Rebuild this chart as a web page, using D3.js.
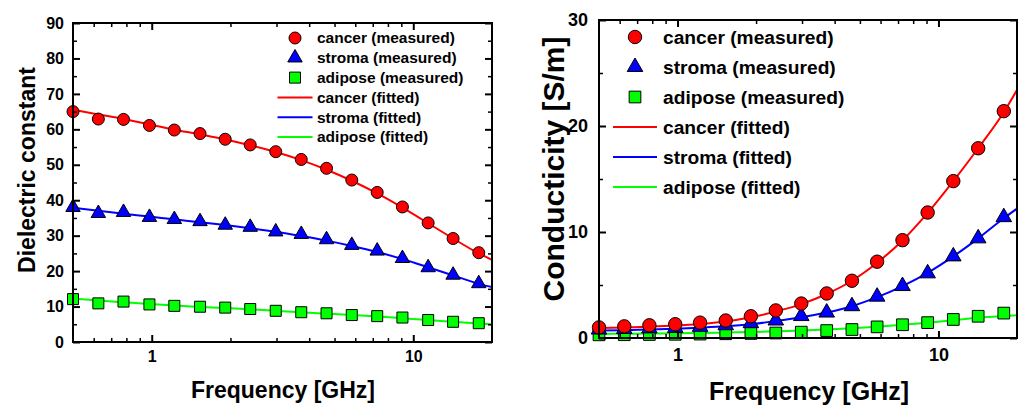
<!DOCTYPE html>
<html>
<head>
<meta charset="utf-8">
<script src="https://cdn.jsdelivr.net/npm/d3@7"></script>
<style>
  body { margin: 0; background: #fff; }
  svg text { font-family: "Liberation Sans", Arial, sans-serif; font-weight: bold; fill: #000; }
</style>
</head>
<body>
<div id="chart"></div>
<script>
// measured frequencies (GHz)
const freq = [0.5, 0.625, 0.78, 0.98, 1.22, 1.53, 1.91, 2.38, 2.98, 3.73, 4.66, 5.82, 7.28, 9.09, 11.4, 14.2, 17.8];
const fitFreq = [0.5, 0.625, 0.78, 0.98, 1.22, 1.53, 1.91, 2.38, 2.98, 3.73, 4.66, 5.82, 7.28, 9.09, 11.4, 14.2, 17.8, 20];

// dielectric constant
const epsCancer  = [65, 62.9, 62.8, 61.1, 59.8, 58.8, 57.2, 55.6, 53.7, 51.5, 49, 45.7, 42.2, 38.1, 33.6, 29.2, 25.2];
const epsStroma  = [38, 36.3, 36.6, 35.2, 34.6, 34, 33, 32.4, 31.1, 30.4, 28.9, 27.3, 25.7, 23.6, 21, 18.9, 16.5];
const epsAdipose = [12.1, 10.9, 11.4, 10.6, 10.2, 9.95, 9.7, 9.3, 8.8, 8.4, 8.1, 7.6, 7.3, 6.9, 6.2, 5.7, 5.3];
const epsCancerFit  = [65.5, 64.2, 62.9, 61.4, 59.9, 58.6, 57.1, 55.5, 53.6, 51.3, 48.6, 45.5, 41.9, 37.9, 33.5, 29.2, 25, 23.2];
const epsStromaFit  = [37.9, 37, 36.2, 35.4, 34.6, 33.8, 33, 32.1, 31.1, 29.9, 28.6, 27.1, 25.4, 23.4, 21.1, 18.8, 16.4, 15.5];
const epsAdiposeFit = [12.3, 11.7, 11.2, 10.7, 10.3, 9.9, 9.6, 9.2, 8.8, 8.4, 8, 7.6, 7.2, 6.7, 6.2, 5.7, 5.2, 5];

// conductivity (S/m)
const sigCancer  = [1.0, 1.1, 1.2, 1.3, 1.45, 1.65, 2.05, 2.6, 3.25, 4.2, 5.4, 7.2, 9.23, 11.84, 14.8, 17.9, 21.4];
const sigStroma  = [0.8, 0.85, 0.9, 0.95, 1.05, 1.2, 1.4, 1.65, 2.07, 2.4, 3, 3.9, 4.9, 6.1, 7.7, 9.4, 11.4];
const sigAdipose = [0.3, 0.31, 0.33, 0.35, 0.37, 0.4, 0.43, 0.47, 0.55, 0.7, 0.8, 1.05, 1.25, 1.45, 1.75, 2.05, 2.35];
const sigCancerFit  = [0.95, 1, 1.07, 1.17, 1.32, 1.55, 1.95, 2.5, 3.2, 4.15, 5.4, 7.1, 9.2, 11.8, 14.8, 17.9, 21.3, 23.4];
const sigStromaFit  = [0.7, 0.74, 0.8, 0.87, 0.97, 1.1, 1.3, 1.6, 1.95, 2.4, 3, 3.85, 4.9, 6.15, 7.7, 9.4, 11.3, 12.2];
const sigAdiposeFit = [0.38, 0.4, 0.42, 0.45, 0.48, 0.52, 0.57, 0.63, 0.7, 0.8, 0.92, 1.07, 1.25, 1.45, 1.68, 1.92, 2.08, 2.15];

// axis ticks
const xMajor = [1, 10];
const xMinor = [0.6, 0.7, 0.8, 0.9, 2, 3, 4, 5, 6, 7, 8, 9];
const epsMajor = [0, 10, 20, 30, 40, 50, 60, 70, 80, 90];
const epsMinor = [5, 15, 25, 35, 45, 55, 65, 75, 85];
const sigMajor = [0, 10, 20, 30];
const sigMinor = [5, 15, 25];

const legendLabels = ["cancer (measured)", "stroma (measured)", "adipose (measured)",
                      "cancer (fitted)", "stroma (fitted)", "adipose (fitted)"];
const colors = ["#ff0000", "#0000ff", "#00ff00"];
const shapes = [d3.symbolCircle, d3.symbolTriangle, d3.symbolSquare];

const svg = d3.select("#chart")
  .append("svg")
  .attr("width", 1019)
  .attr("height", 405);

function drawPanel(p) {
  const x = d3.scaleLog().domain([0.5, 20]).range([p.left, p.right]);
  const y = d3.scaleLinear().domain(p.yDomain).range([p.bottom, p.top]);
  const g = svg.append("g");

  const clipId = "clip" + p.id;
  g.append("clipPath").attr("id", clipId)
    .append("rect")
    .attr("x", p.left).attr("y", p.top)
    .attr("width", p.right - p.left).attr("height", p.bottom - p.top);

  // fitted curves
  const line = d3.line()
    .x(d => x(d[0]))
    .y(d => y(d[1]))
    .curve(d3.curveMonotoneX);
  p.fits.forEach((vals, i) => {
    g.append("path")
      .datum(fitFreq.map((f, j) => [f, vals[j]]))
      .attr("clip-path", `url(#${clipId})`)
      .attr("d", line)
      .attr("fill", "none")
      .attr("stroke", colors[i])
      .attr("stroke-width", 2);
  });

  // measured points (adipose first so cancer sits on top)
  [2, 1, 0].forEach(i => {
    g.append("g")
      .selectAll("path")
      .data(freq.map((f, j) => [f, p.meas[i][j]]))
      .join("path")
      .attr("transform", d => `translate(${x(d[0])},${y(d[1])})`)
      .attr("d", d3.symbol().type(shapes[i]).size(p.sizes[i]))
      .attr("fill", colors[i])
      .attr("stroke", "#000")
      .attr("stroke-width", 1);
  });

  // axes, ticks pointing inward
  const axes = [
    [d3.axisBottom, x, xMajor, xMinor, `translate(0,${p.bottom})`, true, p.xPad],
    [d3.axisTop, x, xMajor, xMinor, `translate(0,${p.top})`, false, p.xPad],
    [d3.axisLeft, y, p.yMajor, p.yMinor, `translate(${p.left},0)`, true, p.yPad],
    [d3.axisRight, y, p.yMajor, p.yMinor, `translate(${p.right},0)`, false, p.yPad]
  ];
  axes.forEach(([fn, sc, major, minor, tr, labels, pad]) => {
    const a = g.append("g").attr("transform", tr)
      .style("font-size", p.tickFont + "px")
      .call(fn(sc).tickValues(major).tickSize(-7).tickPadding(pad)
        .tickFormat(labels ? d3.format("d") : ""));
    a.select(".domain").remove();
    a.selectAll(".tick line").attr("stroke-width", 2);
    a.selectAll(".tick text").style("font-family", "'Liberation Sans', Arial, sans-serif");
    const b = g.append("g").attr("transform", tr)
      .call(fn(sc).tickValues(minor).tickSize(-4).tickFormat(""));
    b.select(".domain").remove();
    b.selectAll(".tick line").attr("stroke-width", 1.5);
  });

  // frame
  g.append("rect")
    .attr("x", p.left).attr("y", p.top)
    .attr("width", p.right - p.left).attr("height", p.bottom - p.top)
    .attr("fill", "none").attr("stroke", "#000").attr("stroke-width", 2);

  // axis titles
  g.append("text")
    .attr("x", p.xTitleX)
    .attr("y", p.xTitleY)
    .attr("text-anchor", "middle")
    .style("font-size", p.xTitleFont + "px")
    .text("Frequency [GHz]");
  g.append("text")
    .attr("transform", `translate(${p.yTitleX},${p.yTitleY}) rotate(-90)`)
    .attr("text-anchor", "middle")
    .style("font-size", p.yTitleFont + "px")
    .text(p.yTitle);

  // legend
  const lg = g.append("g");
  legendLabels.forEach((label, i) => {
    const ly = p.legY + i * p.legStep;
    if (i < 3) {
      lg.append("path")
        .attr("transform", `translate(${p.legSym},${ly})`)
        .attr("d", d3.symbol().type(shapes[i]).size(p.sizes[i]))
        .attr("fill", colors[i])
        .attr("stroke", "#000");
    } else {
      lg.append("line")
        .attr("x1", p.legSym - p.legLine / 2).attr("x2", p.legSym + p.legLine / 2)
        .attr("y1", ly).attr("y2", ly)
        .attr("stroke", colors[i - 3]).attr("stroke-width", 2);
    }
    lg.append("text")
      .attr("x", p.legText)
      .attr("y", ly)
      .attr("dy", "0.35em")
      .style("font-size", p.legFont + "px")
      .text(label);
  });
}

drawPanel({
  id: "eps", left: 73, right: 492, top: 23, bottom: 342,
  yDomain: [0, 90], yMajor: epsMajor, yMinor: epsMinor,
  meas: [epsCancer, epsStroma, epsAdipose],
  fits: [epsCancerFit, epsStromaFit, epsAdiposeFit],
  sizes: [113, 90, 121],
  tickFont: 16, xPad: 9, yPad: 9,
  xTitleX: 283, xTitleY: 398, xTitleFont: 23,
  yTitle: "Dielectric constant", yTitleX: 35, yTitleY: 170, yTitleFont: 23,
  legY: 38, legStep: 19.8, legSym: 295, legLine: 35, legText: 317, legFont: 15.5
});

drawPanel({
  id: "sig", left: 599, right: 1017, top: 20, bottom: 338,
  yDomain: [0, 30], yMajor: sigMajor, yMinor: sigMinor,
  meas: [sigCancer, sigStroma, sigAdipose],
  fits: [sigCancerFit, sigStromaFit, sigAdiposeFit],
  sizes: [141, 105, 137],
  tickFont: 18, xPad: 10, yPad: 11,
  xTitleX: 809, xTitleY: 400, xTitleFont: 25,
  yTitle: "Conducticity [S/m]", yTitleX: 564, yTitleY: 169, yTitleFont: 30,
  legY: 37, legStep: 30, legSym: 635, legLine: 44, legText: 663, legFont: 19.2
});
</script>
</body>
</html>
